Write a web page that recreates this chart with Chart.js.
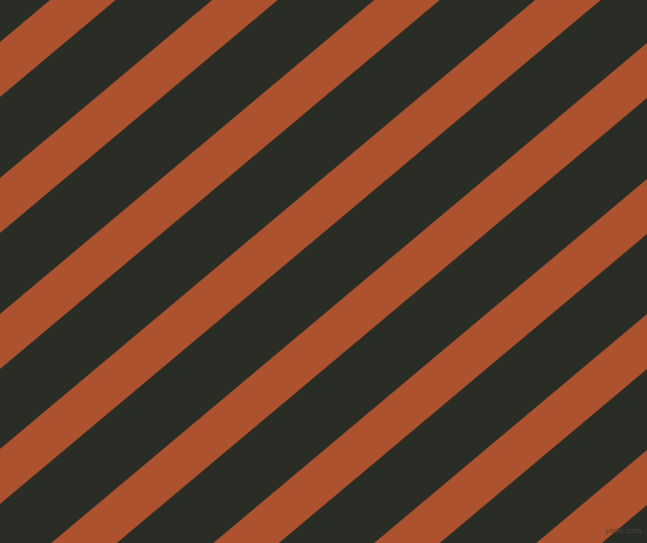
<!DOCTYPE html>
<html>
<head>
<meta charset="utf-8">
<script src="https://cdn.jsdelivr.net/npm/chart.js@4.4.1/dist/chart.umd.min.js"></script>
<style>
  html, body { margin: 0; padding: 0; background: #2a2d26; overflow: hidden; }
  #wrap { position: relative; width: 647px; height: 543px; }
  #c { display: block; }
  #mark { position: absolute; left: 606px; top: 526px; font: 8px "Liberation Sans", Arial, sans-serif; color: #4d4638; white-space: nowrap; }
</style>
</head>
<body>
<div id="wrap">
  <canvas id="c" width="647" height="543"></canvas>
  <div id="mark">pixlis.com</div>
</div>
<script>
// Stripe data: offsets of each stripe edge measured as (y + tan(angle) * x), in picture units
const stripeNames = ['S1', 'S2', 'S3', 'S4', 'S5', 'S6', 'S7', 'S8'];
const upperEdge = [42, 178, 314, 449, 586, 722, 857, 993];
const lowerEdge = [97, 233, 369, 504, 641, 777, 912, 1048];
const stripeAngleDeg = 40;
const xExtent = [0, 647];
const yExtent = [0, 543];

const DARK = '#2a2d26';
const ORANGE = '#ad522e';

const slope = Math.tan(stripeAngleDeg * Math.PI / 180);
const xs = [xExtent[0] - 120, xExtent[1] + 120];
function edgeLine(offset) {
  return xs.map(x => ({ x: x, y: offset - slope * x }));
}

const datasets = [];
stripeNames.forEach((name, i) => {
  datasets.push({
    label: name + ' top',
    data: edgeLine(upperEdge[i]),
    borderColor: 'rgba(0,0,0,0)',
    borderWidth: 1,
    pointRadius: 0,
    fill: false
  });
  datasets.push({
    label: name,
    data: edgeLine(lowerEdge[i]),
    borderColor: 'rgba(0,0,0,0)',
    borderWidth: 1,
    pointRadius: 0,
    backgroundColor: ORANGE,
    fill: '-1'
  });
});

const bgPlugin = {
  id: 'bg',
  beforeDraw(chart) {
    const ctx = chart.ctx;
    ctx.save();
    ctx.fillStyle = DARK;
    ctx.fillRect(0, 0, chart.width, chart.height);
    ctx.restore();
  }
};

new Chart(document.getElementById('c'), {
  type: 'line',
  data: { datasets: datasets },
  plugins: [bgPlugin],
  options: {
    responsive: false,
    animation: false,
    devicePixelRatio: 1,
    layout: { padding: 0 },
    elements: { line: { tension: 0 } },
    plugins: { legend: { display: false }, tooltip: { enabled: false }, title: { display: false } },
    scales: {
      x: { type: 'linear', min: xExtent[0], max: xExtent[1], display: false },
      y: { type: 'linear', min: yExtent[0], max: yExtent[1], reverse: true, display: false }
    }
  }
});
</script>
</body>
</html>
